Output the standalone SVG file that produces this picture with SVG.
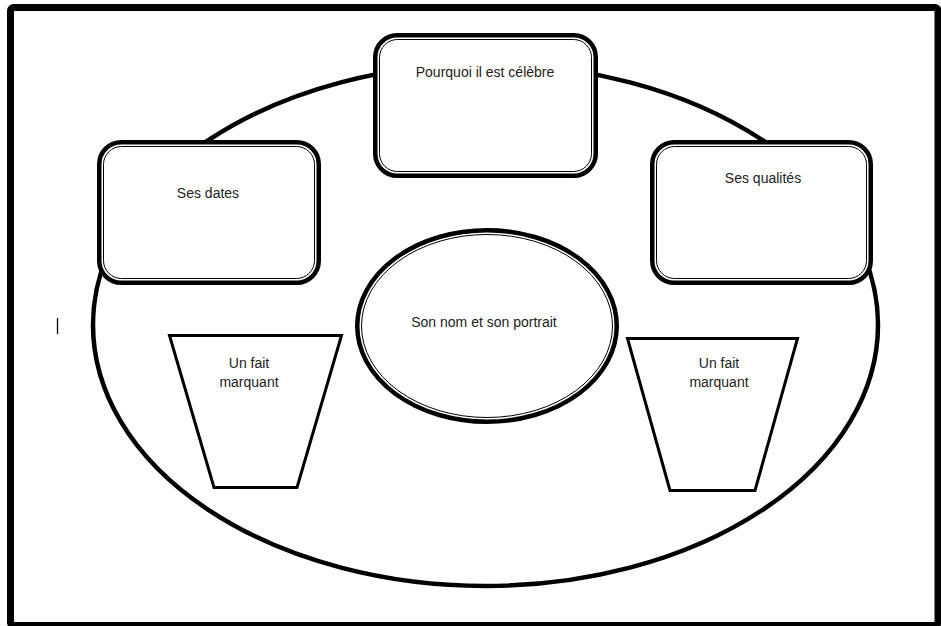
<svg xmlns="http://www.w3.org/2000/svg" width="941" height="626" viewBox="0 0 941 626">
<style>
.thick{fill:#fff;stroke:#000;stroke-width:4.5}
.thin{fill:none;stroke:#000;stroke-width:1}
.trap{fill:#fff;stroke:#000;stroke-width:3;stroke-linejoin:miter}
.lbl{font-family:"Liberation Sans",Arial,sans-serif;font-size:14px;fill:#222;text-anchor:middle}
</style>
<rect x="0" y="0" width="941" height="626" fill="#fff"/>
<rect x="10.5" y="7.5" width="927.5" height="618" rx="3" fill="none" stroke="#000" stroke-width="7"/>
<line x1="57.5" y1="318" x2="57.5" y2="334" stroke="#000" stroke-width="1.3"/>
<g id="connectors">
<ellipse cx="485.5" cy="325" rx="392.5" ry="261" fill="none" stroke="#000" stroke-width="4.5"/>
</g>
<g id="node-celebre">
<rect class="thick" x="375.25" y="35.25" width="220.5" height="140.5" rx="22"/>
<rect class="thin" x="379.5" y="39.5" width="212" height="132" rx="18"/>
<text class="lbl" x="485" y="77">Pourquoi il est célèbre</text>
</g>
<g id="node-dates">
<rect class="thick" x="99.25" y="142.25" width="219.5" height="140.5" rx="22"/>
<rect class="thin" x="103.5" y="146.5" width="211" height="132" rx="18"/>
<text class="lbl" x="208" y="198">Ses dates</text>
</g>
<g id="node-qualites">
<rect class="thick" x="652.25" y="142.25" width="218.5" height="140.5" rx="22"/>
<rect class="thin" x="656.5" y="146.5" width="210" height="132" rx="18"/>
<text class="lbl" x="763" y="183">Ses qualités</text>
</g>
<g id="node-portrait">
<ellipse class="thick" cx="487" cy="326" rx="129.75" ry="95.75"/>
<ellipse class="thin" cx="487" cy="326" rx="125.5" ry="91.5"/>
<text class="lbl" x="484" y="327">Son nom et son portrait</text>
</g>
<g id="node-fait-gauche">
<polygon class="trap" points="169.5,335.5 341.5,335.5 297,487.5 214,487.5"/>
<text class="lbl" x="249" y="368">Un fait</text>
<text class="lbl" x="249" y="387">marquant</text>
</g>
<g id="node-fait-droite">
<polygon class="trap" points="627.5,338.5 797.5,338.5 755,490.5 670,490.5"/>
<text class="lbl" x="719" y="368">Un fait</text>
<text class="lbl" x="719" y="387">marquant</text>
</g>
</svg>
